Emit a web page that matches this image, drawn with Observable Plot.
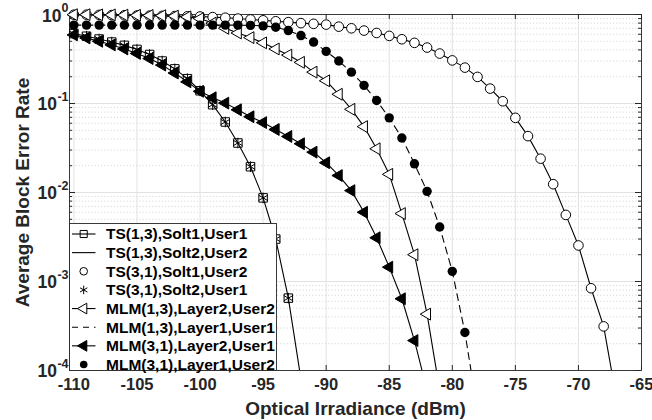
<!DOCTYPE html>
<html><head><meta charset="utf-8">
<script src="https://cdn.jsdelivr.net/npm/d3@7"></script>
<script src="https://cdn.jsdelivr.net/npm/@observablehq/plot@0.6"></script>
<style>
body{margin:0;background:#fff;}
#chart{width:652px;height:420px;}
</style></head><body><div id="chart"></div>
<script>
// Optical irradiance (dBm) sample points, 1 dBm apart
const xs = [-110,-109,-108,-107,-106,-105,-104,-103,-102,-101,-100,-99,-98,-97,-96,-95,-94,-93,-92,-91,-90,-89,-88,-87,-86,-85,-84,-83,-82,-81,-80,-79,-78,-77,-76,-75,-74,-73,-72,-71,-70,-69,-68,-67];

// TS(1,3),Solt1,User1  (= TS(3,1),Solt2,User1)
const tsSolt1User1 = [0.61,0.57,0.53,0.49,0.45,0.405,0.355,0.30,0.245,0.19,0.139,0.097,0.062,0.036,0.0195,0.0087,0.0030,0.00065,0.00008];
// TS(1,3),Solt2,User2  (= TS(3,1),Solt1,User2)
const tsSolt2User2 = [0.995,0.995,0.99,0.985,0.98,0.975,0.97,0.965,0.96,0.955,0.95,0.935,0.92,0.90,0.88,0.86,0.84,0.82,0.80,0.785,0.77,0.73,0.70,0.66,0.62,0.575,0.527,0.48,0.425,0.364,0.305,0.253,0.199,0.147,0.106,0.069,0.043,0.024,0.0124,0.0056,0.00254,0.00084,0.000313,0.00005];
// MLM(1,3),Layer2,User2
const mlm13Layer2User2 = [0.995,0.995,0.99,0.99,0.985,0.98,0.975,0.97,0.96,0.94,0.90,0.80,0.70,0.62,0.55,0.48,0.41,0.35,0.29,0.225,0.18,0.127,0.086,0.055,0.031,0.016,0.0058,0.0020,0.00043,0.00006];
// MLM(1,3),Layer1,User1  (= MLM(3,1),Layer1,User2)
const mlmLayer1 = [0.76,0.76,0.76,0.76,0.76,0.76,0.76,0.76,0.76,0.76,0.76,0.76,0.76,0.76,0.755,0.745,0.72,0.66,0.58,0.49,0.385,0.30,0.225,0.16,0.108,0.069,0.041,0.021,0.0103,0.0041,0.0013,0.000267,0.000035];
// MLM(3,1),Layer2,User1
const mlm31Layer2User1 = [0.59,0.545,0.50,0.455,0.41,0.365,0.32,0.27,0.22,0.175,0.137,0.116,0.101,0.085,0.071,0.061,0.051,0.0426,0.0353,0.0284,0.0216,0.0155,0.0105,0.0060,0.0031,0.00145,0.00064,0.000217,0.00006];

const xTicks = [-110,-105,-100,-95,-90,-85,-80,-75,-70,-65];
const yExponents = [0,-1,-2,-3,-4];
const yMajor = yExponents.map(e => Math.pow(10, e));
const yMinor = [-4,-3,-2,-1].flatMap(e => [2,3,4,5,6,7,8,9].map(m => m * Math.pow(10, e)));

const legendLabels = ["TS(1,3),Solt1,User1","TS(1,3),Solt2,User2","TS(3,1),Solt1,User2","TS(3,1),Solt2,User1","MLM(1,3),Layer2,User2","MLM(1,3),Layer1,User1","MLM(3,1),Layer2,User1","MLM(3,1),Layer1,User2"];

const rows = vals => vals.map((v, i) => ({x: xs[i], y: v}));
const A = rows(tsSolt1User1), B = rows(tsSolt2User2), C = rows(mlm13Layer2User2), D = rows(mlmLayer1), E = rows(mlm31Layer2User1);
const inAxes = d => d.y >= 1e-4;

const FONT = "Liberation Sans, Arial, Helvetica, sans-serif";
const INK = "#262626";
const lw = 1.1;
const AX = 19;   // axis titles
const TK = 16.5; // x tick labels

const plot = Plot.plot({
  width: 652, height: 420,
  marginLeft: 69, marginRight: 11, marginTop: 14, marginBottom: 50,
  x: {domain: [-110.35, -65], axis: null},
  y: {type: "log", domain: [1e-4, 1], axis: null},
  style: {fontFamily: FONT, background: "white"},
  marks: [
    Plot.ruleY(yMinor, {y: d => d, stroke: "#c8c8c8", strokeDasharray: "1,2.2", strokeWidth: 0.8}),
    Plot.ruleX(xTicks, {x: d => d, stroke: "#e2e2e2"}),
    Plot.ruleY(yMajor, {y: d => d, stroke: "#e2e2e2"}),
    // inward ticks
    Plot.tickX(xTicks, {x: d => d, insetTop: 351, stroke: INK}),
    Plot.tickX(xTicks, {x: d => d, insetBottom: 351, stroke: INK}),
    Plot.tickY(yMajor, {y: d => d, insetRight: 566, stroke: INK}),
    Plot.tickY(yMajor, {y: d => d, insetLeft: 566, stroke: INK}),
    Plot.tickY(yMinor, {y: d => d, insetRight: 569, stroke: INK}),
    Plot.tickY(yMinor, {y: d => d, insetLeft: 569, stroke: INK}),
    Plot.frame({stroke: INK, strokeWidth: 0.9}),
    // series
    Plot.line(A, {x: "x", y: "y", stroke: "black", strokeWidth: lw, clip: true}),
    Plot.dot(A, {x: "x", y: "y", filter: inAxes, symbol: "square", r: 4.8, stroke: "black", fill: "none", strokeWidth: 1}),
    Plot.line(B, {x: "x", y: "y", stroke: "black", strokeWidth: lw, clip: true}),
    Plot.dot(B, {x: "x", y: "y", filter: inAxes, symbol: "circle", r: 4.8, stroke: "black", fill: "white", strokeWidth: 1}),
    Plot.dot(A, {x: "x", y: "y", filter: inAxes, symbol: "asterisk", r: 5, stroke: "black", strokeWidth: 1}),
    Plot.line(C, {x: "x", y: "y", stroke: "black", strokeWidth: lw, clip: true}),
    Plot.dot(C, {x: "x", y: "y", filter: inAxes, symbol: "triangle", rotate: -90, r: 4.4, stroke: "black", fill: "white", strokeWidth: 1}),
    Plot.line(D, {x: "x", y: "y", stroke: "black", strokeWidth: lw, strokeDasharray: "7,5", clip: true}),
    Plot.line(E, {x: "x", y: "y", stroke: "black", strokeWidth: lw, clip: true}),
    Plot.dot(E, {x: "x", y: "y", filter: inAxes, symbol: "triangle", rotate: -90, r: 4.4, stroke: "black", fill: "black", strokeWidth: 1}),
    Plot.dot(D, {x: "x", y: "y", filter: inAxes, symbol: "circle", r: 4.7, fill: "black", stroke: "none"}),
    // x tick labels
    Plot.text(xTicks, {x: d => d, frameAnchor: "bottom", lineAnchor: "middle", dy: 14.5, text: d => String(d), fontSize: TK, fontWeight: "bold", fill: INK}),
    // y tick labels: 10^e
    Plot.text(yExponents.filter(e => e === 0), {frameAnchor: "left", y: e => Math.pow(10, e), text: () => "10", textAnchor: "end", lineAnchor: "middle", dx: -8, dy: 2, fontSize: 17.5, fontWeight: "bold", fill: INK}),
    Plot.text(yExponents.filter(e => e !== 0), {frameAnchor: "left", y: e => Math.pow(10, e), text: () => "10", textAnchor: "end", lineAnchor: "middle", dx: -12.5, dy: 1, fontSize: 17.5, fontWeight: "bold", fill: INK}),
    Plot.text(yExponents, {frameAnchor: "left", y: e => Math.pow(10, e), text: e => String(e), textAnchor: "end", lineAnchor: "middle", dx: -1, dy: -7, fontSize: 12.5, fontWeight: "bold", fill: INK}),
    // axis titles
    Plot.text(["Optical Irradiance (dBm)"], {frameAnchor: "bottom", textAnchor: "middle", lineAnchor: "middle", dy: 38, fontSize: AX, fontWeight: "bold", fill: INK}),
    Plot.text(["Average Block Error Rate"], {frameAnchor: "left", textAnchor: "middle", lineAnchor: "middle", dx: -47, rotate: -90, fontSize: AX, fontWeight: "bold", fill: INK})
  ]
});

// Legend (layout box inside the axes, lower left)
const svg = d3.select(plot);
const lg = svg.append("g").attr("transform", "translate(69.5,223.5)").attr("text-anchor", "start");
lg.append("rect").attr("width", 207).attr("height", 147).attr("fill", "white").attr("stroke", INK).attr("stroke-width", 0.9);
const legendStyle = [
  {line: true, sym: d3.symbolSquare, fill: "none"},
  {line: true},
  {sym: d3.symbolCircle, fill: "white"},
  {sym: d3.symbolAsterisk, fill: "none"},
  {line: true, sym: d3.symbolTriangle, fill: "white", rot: -90},
  {line: true, dash: "6,5"},
  {line: true, sym: d3.symbolTriangle, fill: "black", rot: -90},
  {sym: d3.symbolCircle, fill: "black", noStroke: true}
];
legendLabels.forEach((label, i) => {
  const s = legendStyle[i];
  const g = lg.append("g").attr("transform", `translate(0,${10.5 + i * 18.64})`);
  if (s.line) g.append("line").attr("x1", 2.5).attr("x2", 26).attr("stroke", "black").attr("stroke-width", lw).attr("stroke-dasharray", s.dash || null);
  if (s.sym) {
    const r = s.sym === d3.symbolCircle ? 3.8 : 4;
    g.append("path")
      .attr("transform", `translate(14.2,0) rotate(${s.rot || 0})`)
      .attr("d", d3.symbol(s.sym, Math.PI * r * r)())
      .attr("fill", s.fill)
      .attr("stroke", s.noStroke ? "none" : "black")
      .attr("stroke-width", 1);
  }
  g.append("text").attr("x", 36.5).attr("dy", "0.35em").attr("text-anchor", "start")
    .attr("font-family", FONT).attr("font-size", 15.5).attr("font-weight", "bold")
    .attr("fill", "black").text(label);
});

document.getElementById("chart").appendChild(plot);
</script>
</body></html>
